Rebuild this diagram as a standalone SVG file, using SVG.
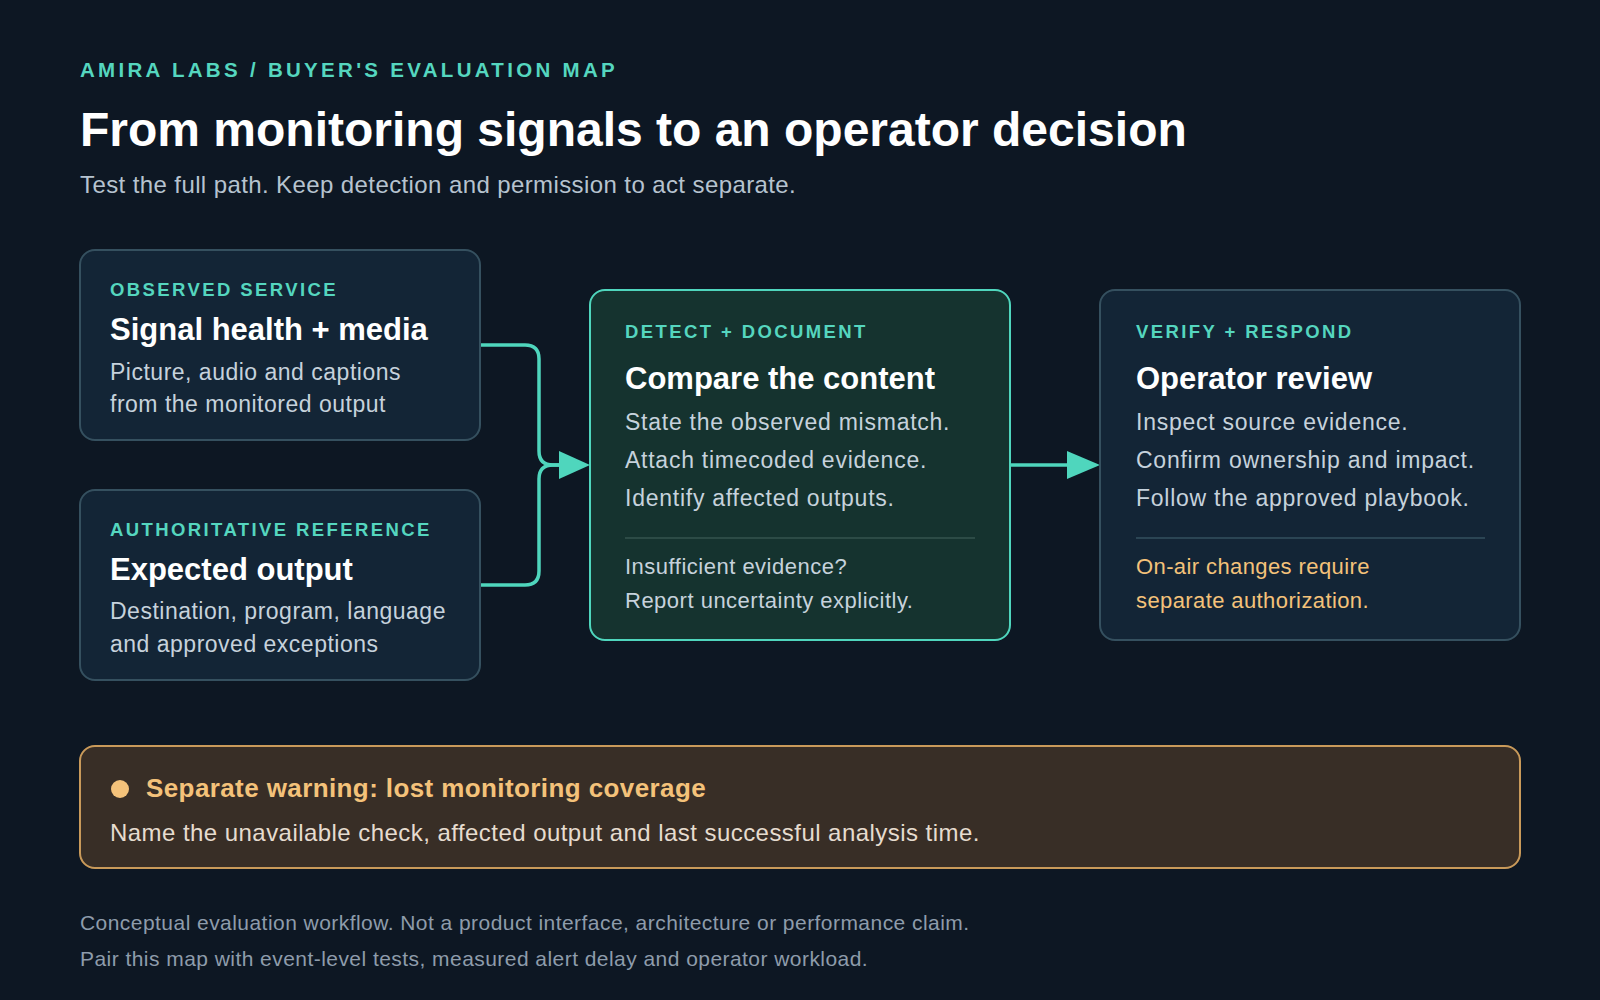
<svg xmlns="http://www.w3.org/2000/svg" width="1600" height="1000" viewBox="0 0 1600 1000">
<style>
text{font-family:"Liberation Sans",Arial,sans-serif}
.lab{fill:#55d6bf;font-size:18.5px;font-weight:bold;letter-spacing:2.4px}
.ttl{fill:#ffffff;font-size:31px;font-weight:bold}
.body{fill:#c6d2dc;font-size:23px;letter-spacing:0.75px}
.box{fill:#132536;stroke:#35505f;stroke-width:2}
.conn{fill:none;stroke:#4fd6bd;stroke-width:3.5}
</style>
<rect width="1600" height="1000" fill="#0d1723"/>
<text x="80" y="77" class="lab" style="font-size:20.5px;letter-spacing:3.3px">AMIRA LABS / BUYER'S EVALUATION MAP</text>
<text x="80" y="146" fill="#fff" font-size="48" font-weight="bold" style="font-family:'Liberation Sans',Arial,sans-serif">From monitoring signals to an operator decision</text>
<text x="80" y="193" class="body" style="font-size:24px;fill:#b6c3cf;letter-spacing:0.4px">Test the full path. Keep detection and permission to act separate.</text>
<g id="connectors">
<path class="conn" d="M480,345 H525 Q539,345 539,359 V451 Q539,465 553,465 H560"/>
<path class="conn" d="M480,585 H525 Q539,585 539,571 V479 Q539,465 553,465 H560"/>
<path d="M559,451 L590,465 L559,479 Z" fill="#4fd6bd"/>
<path class="conn" d="M1010,465 H1070"/>
<path d="M1067,451 L1100,465 L1067,479 Z" fill="#4fd6bd"/>
</g>
<g id="observed">
<rect class="box" x="80" y="250" width="400" height="190" rx="15"/>
<text x="110" y="296" class="lab">OBSERVED SERVICE</text>
<text x="110" y="340" class="ttl">Signal health + media</text>
<text x="110" y="380" class="body" style="letter-spacing:0.5px">Picture, audio and captions</text>
<text x="110" y="412" class="body" style="letter-spacing:0.5px">from the monitored output</text>
</g>
<g id="reference">
<rect class="box" x="80" y="490" width="400" height="190" rx="15"/>
<text x="110" y="536" class="lab">AUTHORITATIVE REFERENCE</text>
<text x="110" y="580" class="ttl">Expected output</text>
<text x="110" y="619" class="body" style="letter-spacing:0.5px">Destination, program, language</text>
<text x="110" y="652" class="body" style="letter-spacing:0.5px">and approved exceptions</text>
</g>
<g id="detect">
<rect x="590" y="290" width="420" height="350" rx="15" fill="#15332f" stroke="#4fd6bd" stroke-width="2"/>
<text x="625" y="338" class="lab">DETECT + DOCUMENT</text>
<text x="625" y="389" class="ttl">Compare the content</text>
<text x="625" y="430" class="body">State the observed mismatch.</text>
<text x="625" y="468" class="body">Attach timecoded evidence.</text>
<text x="625" y="506" class="body">Identify affected outputs.</text>
<line x1="625" y1="538" x2="975" y2="538" stroke="#35554f" stroke-width="1.5"/>
<text x="625" y="574" class="body" style="font-size:22px;letter-spacing:0.5px">Insufficient evidence?</text>
<text x="625" y="608" class="body" style="font-size:22px;letter-spacing:0.5px">Report uncertainty explicitly.</text>
</g>
<g id="verify">
<rect class="box" x="1100" y="290" width="420" height="350" rx="15"/>
<text x="1136" y="338" class="lab">VERIFY + RESPOND</text>
<text x="1136" y="389" class="ttl">Operator review</text>
<text x="1136" y="430" class="body">Inspect source evidence.</text>
<text x="1136" y="468" class="body">Confirm ownership and impact.</text>
<text x="1136" y="506" class="body">Follow the approved playbook.</text>
<line x1="1136" y1="538" x2="1485" y2="538" stroke="#35505f" stroke-width="1.5"/>
<text x="1136" y="574" style="font-size:22px;fill:#f4c27a;letter-spacing:0.4px">On-air changes require</text>
<text x="1136" y="608" style="font-size:22px;fill:#f4c27a;letter-spacing:0.4px">separate authorization.</text>
</g>
<g id="warning">
<rect x="80" y="746" width="1440" height="122" rx="15" fill="#382e26" stroke="#c99a5a" stroke-width="2"/>
<circle cx="120" cy="789" r="9" fill="#f4c27a"/>
<text x="146" y="797" style="font-size:26px;font-weight:bold;fill:#f4c27a;letter-spacing:0.4px">Separate warning: lost monitoring coverage</text>
<text x="110" y="841" class="body" style="font-size:24px;fill:#e6dccf;letter-spacing:0.45px">Name the unavailable check, affected output and last successful analysis time.</text>
</g>
<text x="80" y="930" style="font-size:21px;fill:#8e9cab;letter-spacing:0.45px">Conceptual evaluation workflow. Not a product interface, architecture or performance claim.</text>
<text x="80" y="966" style="font-size:21px;fill:#8e9cab;letter-spacing:0.45px">Pair this map with event-level tests, measured alert delay and operator workload.</text>
</svg>
